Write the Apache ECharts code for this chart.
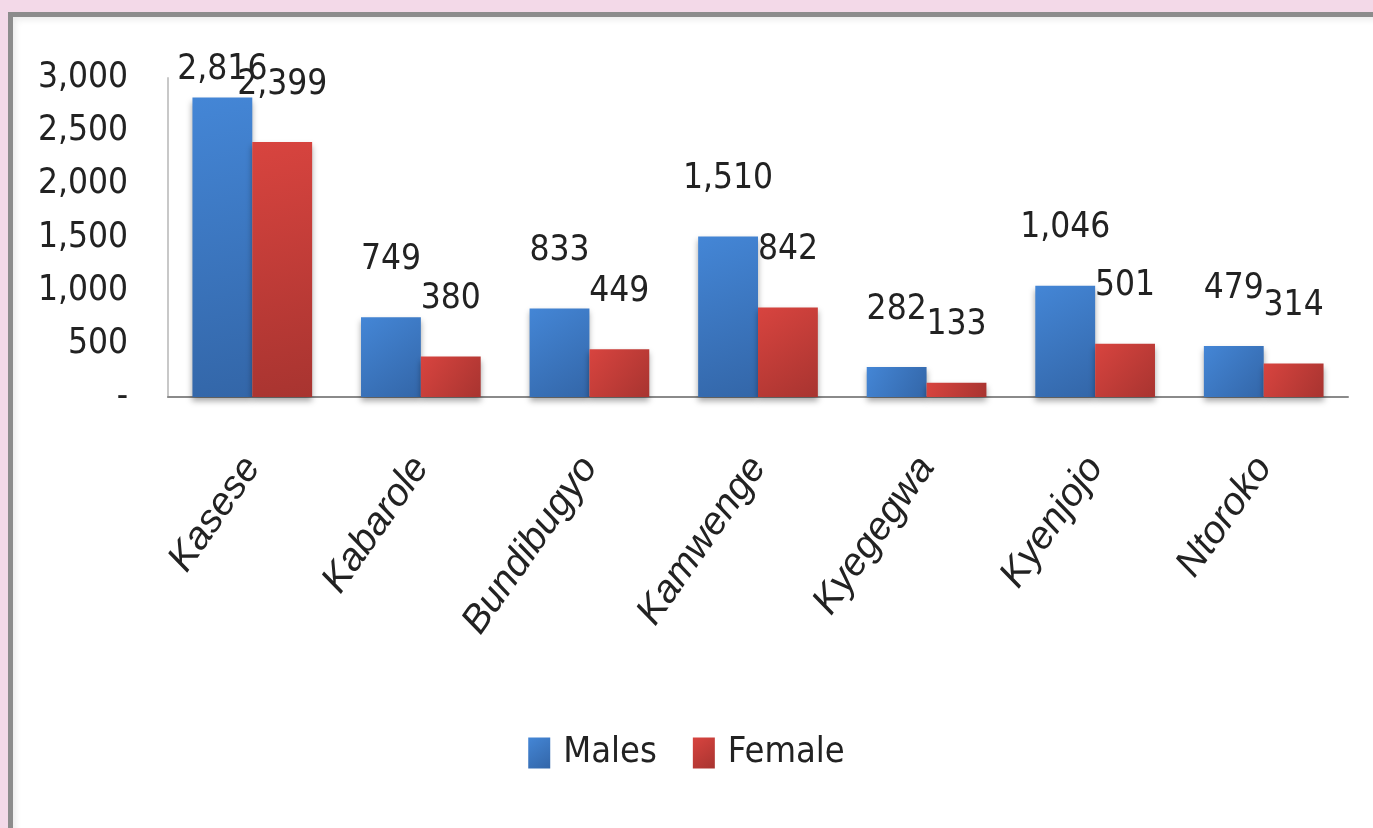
<!DOCTYPE html>
<html>
<head>
<meta charset="utf-8">
<script src="https://cdn.jsdelivr.net/npm/echarts@6/dist/echarts.min.js"></script>
<style>
  html, body { margin: 0; padding: 0; width: 100%; height: 100%; background: #f3d9e8; overflow: hidden; }
  .frame {
    position: absolute; left: 8px; top: 12px; right: -10px; bottom: -10px;
    background: #fff;
    border-top: 5px solid #8c8c8c;
    border-left: 5px solid #8c8c8c;
    box-shadow: inset 3px 3px 6px rgba(0,0,0,0.08);
  }
  #chart { position: absolute; left: 0; top: 0; width: 1373px; height: 828px; }
</style>
</head>
<body>
<div class="frame"></div>
<div id="chart"></div>
<script>
// 各区男女人数
var districts = ["Kasese", "Kabarole", "Bundibugyo", "Kamwenge", "Kyegegwa", "Kyenjojo", "Ntoroko"];
var males = [2816, 749, 833, 1510, 282, 1046, 479];
var females = [2399, 380, 449, 842, 133, 501, 314];
var seriesNames = ["Males", "Female"];

var narrow = "'Liberation Sans Narrow', 'DejaVu Sans Condensed', sans-serif";

function fmt(v) {
  return v === 0 ? "-" : v.toLocaleString("en-US");
}

function grad(top, bottom) {
  return new echarts.graphic.LinearGradient(0, 0, 1, 1, [
    { offset: 0, color: top },
    { offset: 1, color: bottom }
  ]);
}

var labelStyle = {
  show: true,
  position: "top",
  distance: 40,
  color: "#222",
  fontFamily: narrow,
  fontSize: 35,
  formatter: function (p) { return fmt(p.value); }
};

var chart = echarts.init(document.getElementById("chart"));
chart.setOption({
  backgroundColor: "transparent",
  animation: false,
  grid: { left: 168, right: 25, top: 78, bottom: 431 },
  legend: {
    bottom: 52,
    left: "center",
    icon: "rect",
    itemWidth: 22,
    itemHeight: 31,
    itemGap: 36,
    textStyle: { fontFamily: narrow, fontSize: 36, color: "#222", padding: [0, 0, 0, 8] },
    data: seriesNames
  },
  xAxis: {
    type: "category",
    data: districts,
    axisLine: { lineStyle: { color: "#8a8a8a", width: 2 } },
    axisTick: { show: false },
    axisLabel: {
      rotate: 55,
      margin: 64,
      interval: 0,
      color: "#222",
      fontStyle: "italic",
      fontFamily: "'Liberation Sans', sans-serif",
      fontSize: 39
    }
  },
  yAxis: {
    type: "value",
    min: 0,
    max: 3000,
    interval: 500,
    splitLine: { show: false },
    axisLine: { show: true, lineStyle: { color: "#c8c8c8", width: 2 } },
    axisLabel: {
      margin: 40,
      color: "#222",
      fontFamily: narrow,
      fontSize: 35,
      formatter: fmt
    }
  },
  series: [
    {
      name: seriesNames[0],
      type: "bar",
      barGap: "0%",
      barCategoryGap: "29%",
      color: "#3b78c8",
      itemStyle: {
        color: grad("#4486d6", "#3366a8"),
        shadowColor: "rgba(0,0,0,0.35)",
        shadowBlur: 6,
        shadowOffsetY: 4
      },
      label: labelStyle,
      data: males.map(function (v, i) {
        // 顶部那根标签贴近柱子
        return i === 0 ? { value: v, label: { distance: 10 } } : v;
      })
    },
    {
      name: seriesNames[1],
      type: "bar",
      color: "#c8403c",
      itemStyle: {
        color: grad("#d8443f", "#a83430"),
        shadowColor: "rgba(0,0,0,0.35)",
        shadowBlur: 6,
        shadowOffsetY: 4
      },
      label: labelStyle,
      data: females
    }
  ]
});
</script>
</body>
</html>
